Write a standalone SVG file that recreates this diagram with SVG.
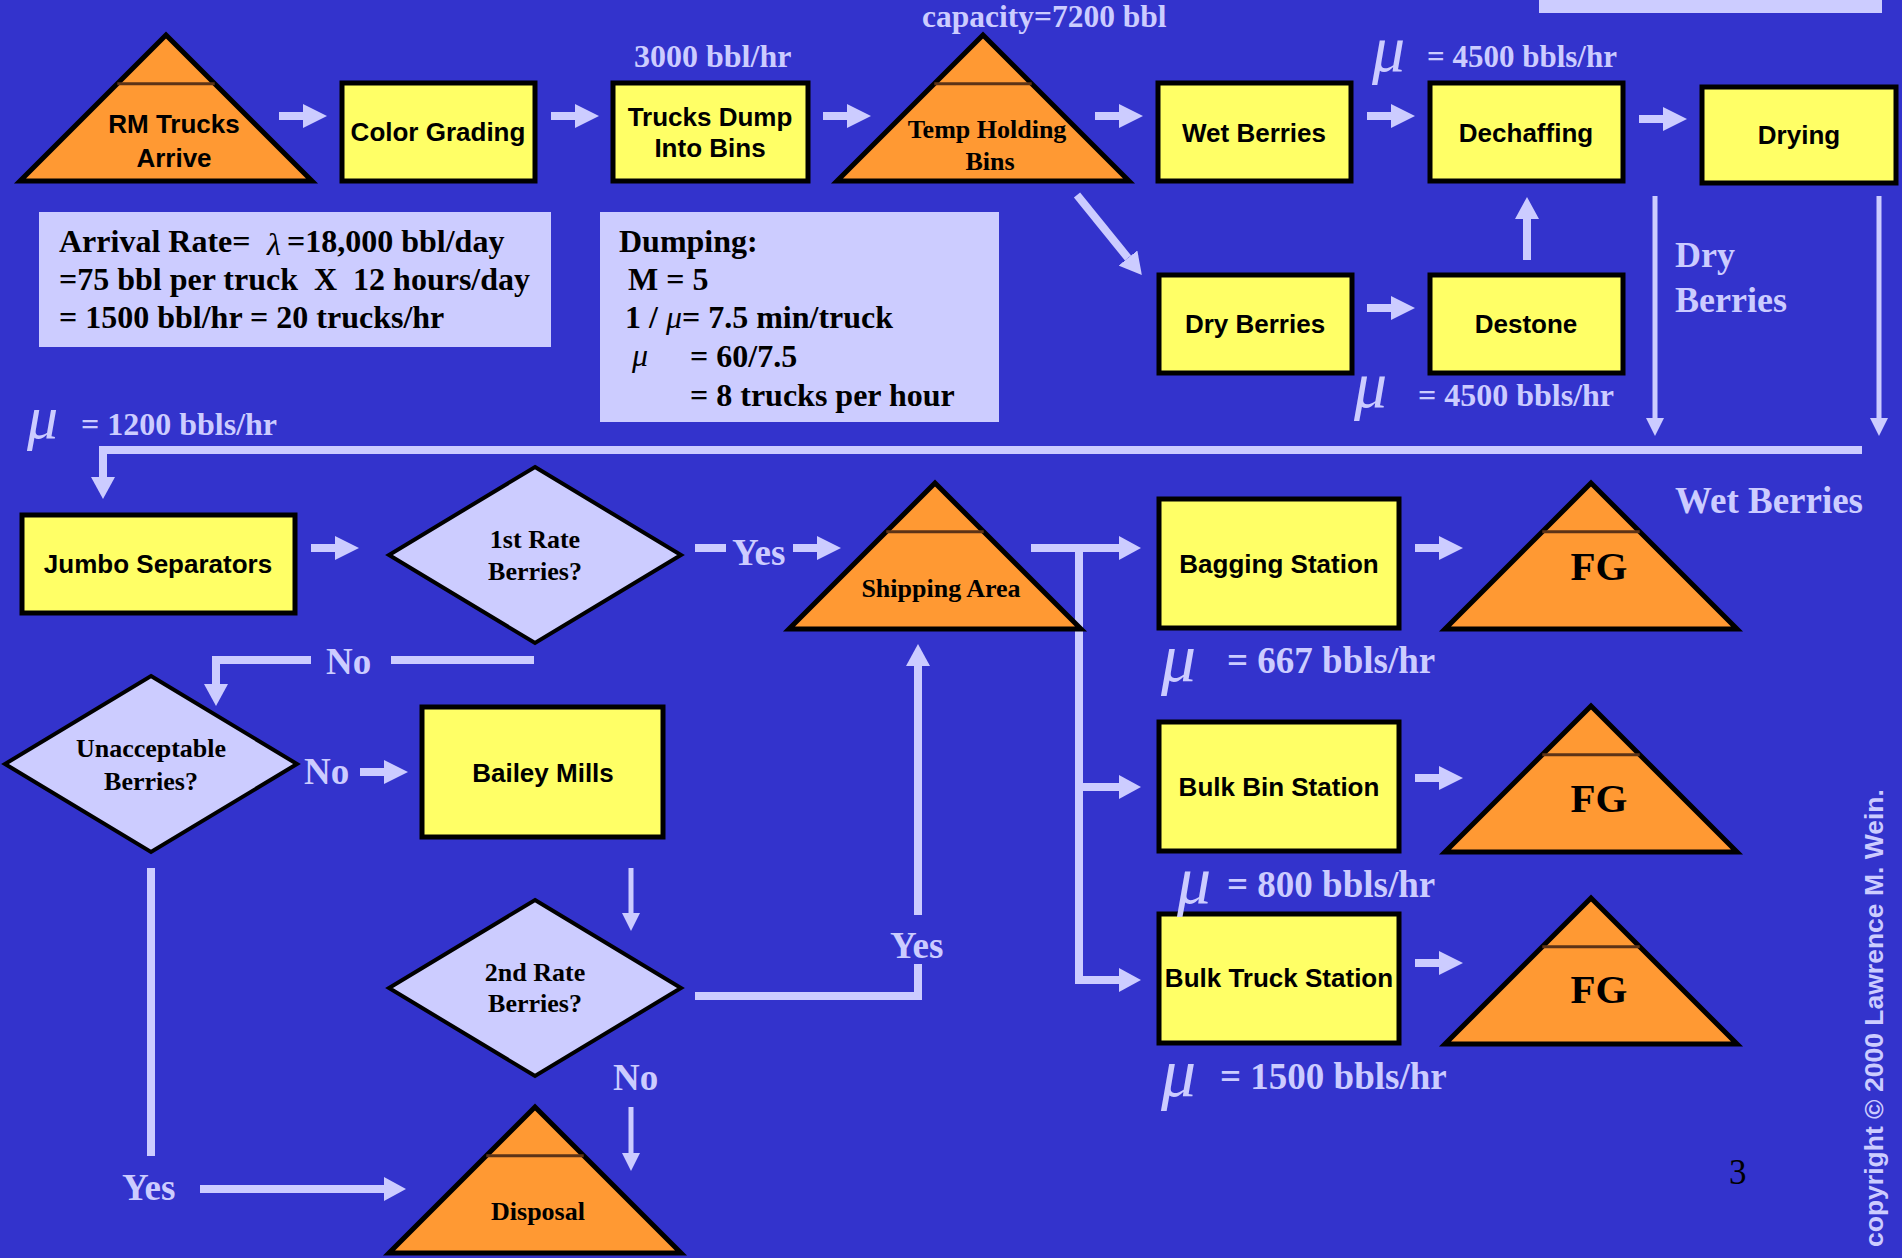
<svg xmlns="http://www.w3.org/2000/svg" xmlns:xlink="http://www.w3.org/1999/xlink" width="1902" height="1258" viewBox="0 0 1902 1258">
<style>
.bg{fill:#3333CC}
.box{fill:#FFFF66;stroke:#000;stroke-width:5}
.tri{fill:#FF9933;stroke:#000;stroke-width:5;stroke-linejoin:miter}
.tline{stroke:#5C3317;stroke-width:3}
.dia{fill:#CCCCFF;stroke:#000;stroke-width:4}
.lbl{font-family:"Liberation Sans",Arial,sans-serif;font-weight:bold;font-size:26px;fill:#000;text-anchor:middle}
.tl{font-family:"Liberation Serif","Times New Roman",serif;font-weight:bold;font-size:26px;fill:#000;text-anchor:middle}
.fg{font-family:"Liberation Serif","Times New Roman",serif;font-weight:bold;font-size:41px;fill:#000;text-anchor:middle}
.note{font-family:"Liberation Serif","Times New Roman",serif;font-weight:bold;fill:#CCCCFF}
.inbox{font-family:"Liberation Serif","Times New Roman",serif;font-weight:bold;font-size:32px;fill:#000}
.mu{font-family:"Liberation Serif","Times New Roman",serif;font-style:italic;fill:#CCCCFF}
.it{font-style:italic;font-weight:normal}
.thk{stroke:#CCCCFF;stroke-width:8;fill:none}
.thn{stroke:#CCCCFF;stroke-width:5;fill:none}
.pan{fill:#CCCCFF}
</style>
<defs>
<path id="ba" d="M0,-4 H24 V-12 L48,0 L24,12 V4 H0 Z" fill="#CCCCFF"/>
<g id="tri"><polygon points="0,0 146,146 -146,146" class="tri"/><line x1="-48.7" y1="48.7" x2="48.7" y2="48.7" class="tline"/></g>
<polygon id="dia" points="0,-88 146,0 0,88 -146,0" class="dia"/>
<marker id="hk" markerUnits="userSpaceOnUse" markerWidth="22" markerHeight="24" refX="0" refY="12" orient="auto"><path d="M0,0 L22,12 L0,24 Z" fill="#CCCCFF"/></marker>
<marker id="hn" markerUnits="userSpaceOnUse" markerWidth="18" markerHeight="18" refX="0" refY="9" orient="auto"><path d="M0,0 L18,9 L0,18 Z" fill="#CCCCFF"/></marker>
</defs>
<rect class="bg" x="0" y="0" width="1902" height="1258"/>
<rect class="pan" x="1539" y="0" width="343" height="13"/>

<g id="connectors">
<use href="#ba" x="279" y="116"/>
<use href="#ba" x="551" y="116"/>
<use href="#ba" x="823" y="116"/>
<use href="#ba" x="1095" y="116"/>
<use href="#ba" x="1367" y="116"/>
<use href="#ba" x="1639" y="119"/>
<use href="#ba" x="1367" y="308"/>
<use href="#ba" x="311" y="548"/>
<use href="#ba" x="793" y="548"/>
<use href="#ba" x="1415" y="548"/>
<use href="#ba" x="1415" y="778"/>
<use href="#ba" x="1415" y="963"/>
<use href="#ba" x="360" y="772"/>
<path d="M1523,260 V219 H1515 L1527,197 L1539,219 H1531 V260 Z" fill="#CCCCFF"/>
<line class="thk" x1="1077" y1="195" x2="1128" y2="258" marker-end="url(#hk)"/>
<line class="thn" x1="1655" y1="196" x2="1655" y2="418" marker-end="url(#hn)"/>
<line class="thn" x1="1879" y1="196" x2="1879" y2="418" marker-end="url(#hn)"/>
<polyline class="thk" points="1862,450 103,450 103,477" marker-end="url(#hk)"/>
<line class="thk" x1="695" y1="548" x2="726" y2="548"/>
<line class="thk" x1="1031" y1="548" x2="1119" y2="548" marker-end="url(#hk)"/>
<polyline class="thk" points="1079,548 1079,980 1119,980" marker-end="url(#hk)"/>
<line class="thk" x1="1079" y1="787" x2="1119" y2="787" marker-end="url(#hk)"/>
<line class="thk" x1="534" y1="660" x2="391" y2="660"/>
<polyline class="thk" points="311,660 216,660 216,684" marker-end="url(#hk)"/>
<line class="thn" x1="631" y1="868" x2="631" y2="913" marker-end="url(#hn)"/>
<line class="thn" x1="631" y1="1107" x2="631" y2="1153" marker-end="url(#hn)"/>
<polyline class="thk" points="695,996 918,996 918,964"/>
<line class="thk" x1="918" y1="915" x2="918" y2="666" marker-end="url(#hk)"/>
<line class="thk" x1="151" y1="868" x2="151" y2="1156"/>
<line class="thk" x1="200" y1="1189" x2="384" y2="1189" marker-end="url(#hk)"/>
</g>

<g id="n-rm"><use href="#tri" x="166" y="35"/><text class="lbl" x="174" y="133">RM Trucks</text><text class="lbl" x="174" y="167">Arrive</text></g>
<g id="n-color"><rect class="box" x="342" y="83" width="193" height="98"/><text class="lbl" font-size="27" x="438" y="141">Color Grading</text></g>
<g id="n-trucks"><rect class="box" x="613" y="83" width="195" height="98"/><text class="lbl" font-size="27" x="710" y="126">Trucks Dump</text><text class="lbl" font-size="27" x="710" y="157">Into Bins</text></g>
<g id="n-temp"><use href="#tri" x="983" y="35"/><text class="tl" x="987" y="138">Temp Holding</text><text class="tl" x="990" y="170">Bins</text></g>
<g id="n-wet"><rect class="box" x="1158" y="83" width="193" height="98"/><text class="lbl" font-size="27" x="1254" y="142">Wet Berries</text></g>
<g id="n-dechaff"><rect class="box" x="1430" y="83" width="193" height="98"/><text class="lbl" font-size="27" x="1526" y="142">Dechaffing</text></g>
<g id="n-drying"><rect class="box" x="1702" y="87" width="194" height="96"/><text class="lbl" font-size="27" x="1799" y="144">Drying</text></g>
<g id="n-dry"><rect class="box" x="1159" y="275" width="193" height="98"/><text class="lbl" font-size="27" x="1255" y="333">Dry Berries</text></g>
<g id="n-destone"><rect class="box" x="1430" y="275" width="193" height="98"/><text class="lbl" font-size="27" x="1526" y="333">Destone</text></g>
<g id="n-jumbo"><rect class="box" x="22" y="515" width="273" height="98"/><text class="lbl" x="158" y="573">Jumbo Separators</text></g>
<g id="n-first"><use href="#dia" x="535" y="555"/><text class="tl" x="535" y="548">1st Rate</text><text class="tl" x="535" y="580">Berries?</text></g>
<g id="n-ship"><use href="#tri" x="935" y="483"/><text class="tl" x="941" y="597">Shipping Area</text></g>
<g id="n-bag"><rect class="box" x="1159" y="499" width="240" height="129"/><text class="lbl" x="1279" y="573">Bagging Station</text></g>
<g id="n-fg1"><use href="#tri" x="1591" y="483"/><text class="fg" x="1599" y="580">FG</text></g>
<g id="n-bulkbin"><rect class="box" x="1159" y="722" width="240" height="129"/><text class="lbl" x="1279" y="796">Bulk Bin Station</text></g>
<g id="n-fg2"><use href="#tri" x="1591" y="706"/><text class="fg" x="1599" y="812">FG</text></g>
<g id="n-bulktruck"><rect class="box" x="1159" y="914" width="240" height="129"/><text class="lbl" x="1279" y="987">Bulk Truck Station</text></g>
<g id="n-fg3"><use href="#tri" x="1591" y="898"/><text class="fg" x="1599" y="1003">FG</text></g>
<g id="n-unacc"><use href="#dia" x="151" y="764"/><text class="tl" x="151" y="757">Unacceptable</text><text class="tl" x="151" y="790">Berries?</text></g>
<g id="n-bailey"><rect class="box" x="422" y="707" width="241" height="130"/><text class="lbl" x="543" y="782">Bailey Mills</text></g>
<g id="n-second"><use href="#dia" x="535" y="988"/><text class="tl" x="535" y="981">2nd Rate</text><text class="tl" x="535" y="1012">Berries?</text></g>
<g id="n-disposal"><use href="#tri" x="535" y="1107"/><text class="tl" x="538" y="1220">Disposal</text></g>

<g id="arrival">
<rect class="pan" x="39" y="212" width="512" height="135"/>
<text class="inbox" x="59" y="252" xml:space="preserve">Arrival Rate=  <tspan x="267" dy="3" class="it">λ</tspan><tspan x="287" dy="-3">=18,000 bbl/day</tspan></text>
<text class="inbox" x="59" y="290" xml:space="preserve">=75 bbl per truck  X  12 hours/day</text>
<text class="inbox" x="59" y="328">= 1500 bbl/hr = 20 trucks/hr</text>
</g>
<g id="dumping">
<rect class="pan" x="600" y="212" width="399" height="210"/>
<text class="inbox" x="619" y="252">Dumping:</text>
<text class="inbox" x="628" y="290">M = 5</text>
<text class="inbox" x="625" y="328">1 / <tspan class="it">μ</tspan>= 7.5 min/truck</text>
<text class="inbox it" font-size="36" x="632" y="366">μ</text>
<text class="inbox" x="690" y="367">= 60/7.5</text>
<text class="inbox" x="690" y="406">= 8 trucks per hour</text>
</g>

<g id="labels">
<text class="note" font-size="32" x="634" y="67">3000 bbl/hr</text>
<text class="note" font-size="31.5" x="922" y="27">capacity=7200 bbl</text>
<text class="mu" font-size="66" x="1372" y="71">μ</text><text class="note" font-size="31" x="1427" y="67">= 4500 bbls/hr</text>
<text class="mu" font-size="66" x="1354" y="407">μ</text><text class="note" font-size="32" x="1418" y="406">= 4500 bbls/hr</text>
<text class="note" font-size="36" x="1675" y="267">Dry</text>
<text class="note" font-size="36" x="1675" y="312">Berries</text>
<text class="mu" font-size="62" x="27" y="438">μ</text><text class="note" font-size="32" x="81" y="435">= 1200 bbls/hr</text>
<text class="note" font-size="37" x="1675" y="513">Wet Berries</text>
<text class="note" font-size="37" x="732" y="565">Yes</text>
<text class="note" font-size="37" x="326" y="674">No</text>
<text class="note" font-size="37" x="304" y="784">No</text>
<text class="note" font-size="37" x="890" y="958">Yes</text>
<text class="note" font-size="37" x="613" y="1090">No</text>
<text class="note" font-size="37" x="122" y="1200">Yes</text>
<text class="mu" font-size="70" x="1161" y="681">μ</text><text class="note" font-size="37" x="1227" y="673">= 667 bbls/hr</text>
<text class="mu" font-size="68" x="1177" y="903">μ</text><text class="note" font-size="37" x="1227" y="897">= 800 bbls/hr</text>
<text class="mu" font-size="70" x="1161" y="1096">μ</text><text class="note" font-size="37" x="1220" y="1089">= 1500 bbls/hr</text>
<text x="1729" y="1184" font-family="'Liberation Serif','Times New Roman',serif" font-size="35" fill="#000">3</text>
<text transform="translate(1883,1247) rotate(-90)" font-family="'Liberation Sans',Arial,sans-serif" font-weight="bold" font-size="26.5" fill="#CCCCFF">copyright © 2000 Lawrence M. Wein.</text>
</g>
</svg>
